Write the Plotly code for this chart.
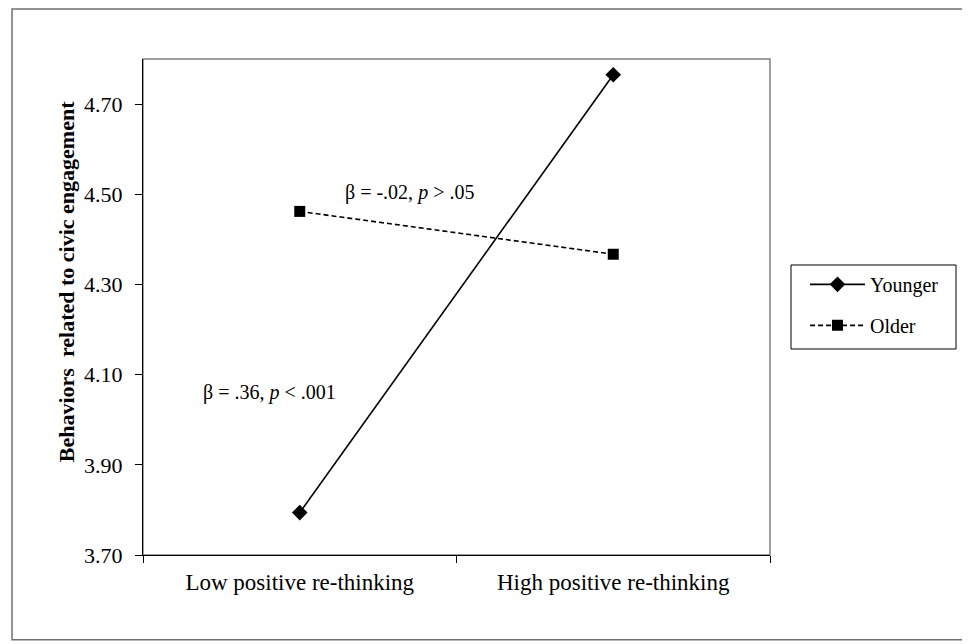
import plotly.graph_objects as go

categories = ["Low positive re-thinking", "High positive re-thinking"]
younger = [3.794, 4.765]
older = [4.462, 4.367]
y_ticks = [3.70, 3.90, 4.10, 4.30, 4.50, 4.70]
series_names = ["Younger", "Older"]
notes = ["β = -.02, <i>p</i> > .05", "β = .36, <i>p</i> < .001"]
y_title = "Behaviors  related to civic engagement"

FONT = "Liberation Serif, Times New Roman, serif"

fig = go.Figure()
fig.add_trace(go.Scatter(
    x=categories, y=younger, name=series_names[0], mode="lines+markers",
    legendgroup="a",
    line=dict(color="black", width=1.6),
    marker=dict(symbol="diamond", size=12, color="black"),
))
fig.add_trace(go.Scatter(
    x=categories, y=older, name=series_names[1], mode="lines+markers",
    legendgroup="b",
    line=dict(color="black", width=1.6, dash="5px,3px"),
    marker=dict(symbol="square", size=11, color="black"),
))

fig.update_layout(
    width=962, height=636,
    margin=dict(l=135, r=200, t=51, b=89),
    paper_bgcolor="white", plot_bgcolor="white",
    font=dict(family=FONT, size=19, color="black"),
    showlegend=True,
    legend=dict(
        x=1.0558, y=0.585, xanchor="left", yanchor="top",
        borderwidth=0, bgcolor="rgba(0,0,0,0)",
        font=dict(family=FONT, size=20, color="black"),
        itemwidth=55, tracegroupgap=12,
    ),
    xaxis=dict(
        type="category", range=[-0.5, 1.5], tickson="boundaries",
        ticks="outside", ticklen=7, tickcolor="black", tickwidth=1,
        showline=True, linecolor="black", linewidth=1.3,
        showgrid=False, zeroline=False, ticklabelstandoff=6,
        tickfont=dict(family=FONT, size=23, color="black"),
    ),
    yaxis=dict(
        range=[3.70, 4.80], tickvals=y_ticks, tickformat=".2f",
        ticks="outside", ticklen=7, tickcolor="black", tickwidth=1,
        showline=True, linecolor="black", linewidth=1.3,
        showgrid=False, zeroline=False, ticklabelstandoff=8,
        tickfont=dict(family=FONT, size=22, color="black"),
    ),
)

# plot-area frame (gray top/right)
fig.add_shape(type="rect", xref="paper", yref="paper", x0=0, x1=1, y0=0, y1=1,
              line=dict(color="#808080", width=1.5), layer="below")
# outer chart frame
fig.add_shape(type="rect", xref="paper", yref="paper",
              x0=-0.2089, x1=1.3126, y0=-0.171, y1=1.1008,
              line=dict(color="#707070", width=1.5), layer="below")
# legend box
fig.add_shape(type="rect", xref="paper", yref="paper",
              x0=1.0335, x1=1.2967, y0=0.4153, y1=0.5847,
              line=dict(color="black", width=1), fillcolor="white", layer="below")

# y-axis title
fig.add_annotation(x=-0.1228, y=0.55, xref="paper", yref="paper",
                   text="<b>" + y_title + "</b>", textangle=-90, showarrow=False,
                   xanchor="center", yanchor="middle",
                   font=dict(family=FONT, size=22, color="black"))

fig.add_annotation(x=0.3485, y=4.504, xref="x", yref="y", text=notes[0],
                   showarrow=False, font=dict(family=FONT, size=20, color="black"))
fig.add_annotation(x=-0.098, y=4.061, xref="x", yref="y", text=notes[1],
                   showarrow=False, font=dict(family=FONT, size=20, color="black"))

fig.write_html("out.html")
